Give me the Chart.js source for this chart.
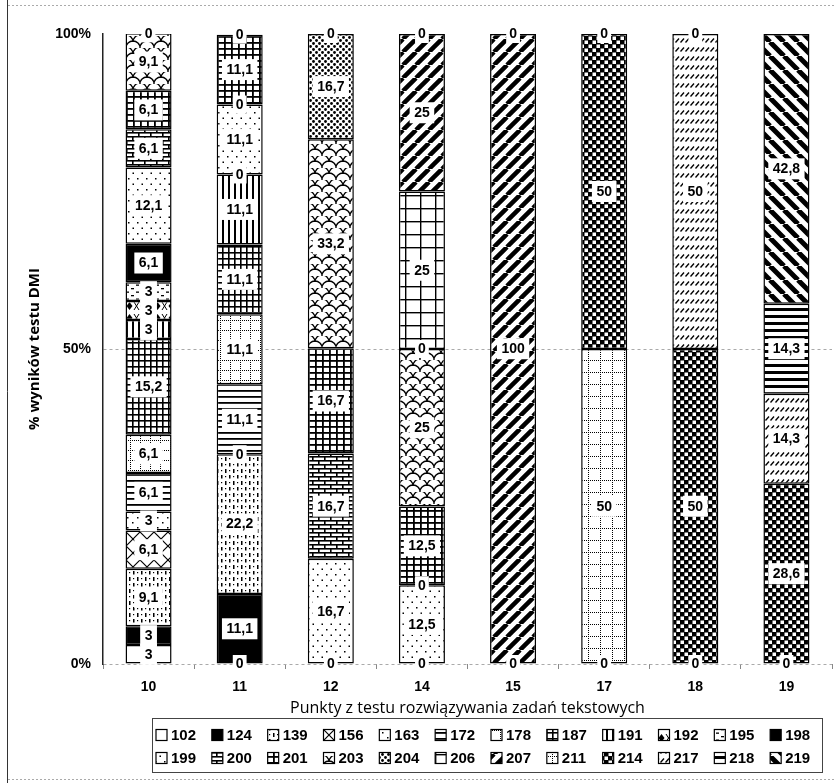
<!DOCTYPE html>
<html>
<head>
<meta charset="utf-8">
<script src="https://cdn.jsdelivr.net/npm/chart.js@4/dist/chart.umd.min.js"></script>
<style>
  html, body { margin: 0; padding: 0; background: #fff; }
  canvas { display: block; }
</style>
</head>
<body>
<canvas id="chart" width="839" height="783"></canvas>
<script>
// Categories: points scored in the word-problem test
const categories = ['10', '11', '12', '14', '15', '17', '18', '19'];

// Share (%) of each DMI result within a category; null = not present
const s102 = [3, 0, 0, 0, 0, 0, 0, 0];
const s124 = [3, 11.1, null, null, null, null, null, null];
const s139 = [9.1, 22.2, null, null, null, null, null, null];
const s156 = [6.1, null, null, null, null, null, null, null];
const s163 = [3, 0, null, null, null, null, null, null];
const s172 = [6.1, 11.1, null, null, null, null, null, null];
const s178 = [6.1, 11.1, null, null, null, null, null, null];
const s187 = [15.2, 11.1, null, null, null, null, null, null];
const s191 = [3, 11.1, null, null, null, null, null, null];
const s192 = [3, null, null, null, null, null, null, null];
const s195 = [3, null, null, null, null, null, null, null];
const s198 = [6.1, 0, null, null, null, null, null, null];
const s199 = [12.1, 11.1, 16.7, 12.5, null, null, null, null];
const s200 = [6.1, 0, 16.7, 0, null, null, null, null];
const s201 = [6.1, 11.1, 16.7, 12.5, null, null, null, null];
const s203 = [9.1, null, 33.2, 25, null, null, null, null];
const s204 = [null, null, 16.7, 0, null, null, null, null];
const s206 = [null, null, null, 25, null, null, null, null];
const s207 = [null, null, null, 25, 100, null, null, null];
const s211 = [null, null, null, null, null, 50, null, null];
const s214 = [null, null, null, null, null, 50, 50, 28.6];
const s217 = [null, null, null, null, null, null, 50, 14.3];
const s218 = [null, null, null, null, null, null, null, 14.3];
const s219 = [0, 0, 0, 0, 0, 0, 0, 42.8];

const seriesLabels = ['102', '124', '139', '156', '163', '172', '178', '187', '191', '192', '195', '198',
                      '199', '200', '201', '203', '204', '206', '207', '211', '214', '217', '218', '219'];
const seriesValues = [s102, s124, s139, s156, s163, s172, s178, s187, s191, s192, s195, s198,
                      s199, s200, s201, s203, s204, s206, s207, s211, s214, s217, s218, s219];

const yTickValues = [0, 50, 100];

// ---- monochrome fill patterns ----
function tile(w, h, draw, bg) {
  const c = document.createElement('canvas');
  c.width = w; c.height = h;
  const g = c.getContext('2d');
  g.fillStyle = bg || '#fff';
  g.fillRect(0, 0, w, h);
  g.fillStyle = '#000';
  g.strokeStyle = '#000';
  draw(g, w, h);
  return g.createPattern(c, 'repeat');
}
function stripes(s, lw, rising) {
  return tile(s, s, g => {
    g.lineWidth = lw;
    g.beginPath();
    for (let k = -1; k <= 1; k++) {
      if (rising) { g.moveTo(k * s, s); g.lineTo(k * s + s, 0); }
      else { g.moveTo(k * s, 0); g.lineTo(k * s + s, s); }
    }
    g.stroke();
  });
}
function dottedGrid(w, h) {
  return tile(w, h, g => {
    for (let x = 0; x < w; x += 2) g.fillRect(x, 0, 1, 1);
    for (let y = 0; y < h; y += 2) g.fillRect(0, y, 1, 1);
  });
}
function dot(g, x, y, r) {
  g.beginPath(); g.arc(x, y, r, 0, Math.PI * 2); g.fill();
}

const patternOf = {
  '102': () => '#ffffff',
  '124': () => '#000000',
  '139': () => tile(8, 12, g => {
    g.fillRect(1, 1, 1.5, 4); g.fillRect(5, 7, 1.5, 3.5);
    g.fillRect(5, 2, 1.2, 1.2); g.fillRect(1, 8, 1.2, 1.2);
  }),
  '156': () => tile(14, 14, g => {
    g.lineWidth = 1.2; g.beginPath();
    g.moveTo(0, 0); g.lineTo(14, 14); g.moveTo(14, 0); g.lineTo(0, 14);
    g.stroke();
  }),
  '163': () => tile(10, 10, g => { g.fillRect(2, 2, 1.5, 1.5); g.fillRect(7, 7, 1.5, 1.5); }),
  '172': () => tile(4, 6, g => { g.fillRect(0, 0, 4, 1.8); }),
  '178': () => dottedGrid(10, 10),
  '187': () => tile(6, 6, g => { g.fillRect(0, 0, 6, 1.6); g.fillRect(0, 0, 1.6, 6); }),
  '191': () => tile(6, 4, g => { g.fillRect(0, 0, 2, 4); }),
  '192': () => tile(14, 12, g => {
    g.beginPath(); g.moveTo(3.5, 2); g.lineTo(6.5, 6); g.lineTo(3.5, 10); g.lineTo(0.5, 6); g.closePath(); g.fill();
    g.lineWidth = 1; g.beginPath();
    g.moveTo(8, 2); g.lineTo(13, 10); g.moveTo(13, 2); g.lineTo(8, 10); g.stroke();
  }),
  '195': () => tile(10, 7, g => { g.fillRect(1, 1, 3, 1.3); g.fillRect(6, 4.5, 3, 1.3); }),
  '198': () => '#000000',
  '199': () => tile(9, 11, g => { g.fillRect(2, 2, 1.5, 1.5); g.fillRect(6.5, 7.5, 1.5, 1.5); }),
  '200': () => tile(12, 8, g => {
    g.fillRect(0, 0, 12, 1.6); g.fillRect(0, 4, 12, 1.6);
    g.fillRect(0, 0, 1.6, 4); g.fillRect(6, 4, 1.6, 4);
  }),
  '201': () => tile(7, 6, g => { g.fillRect(0, 0, 7, 1.8); g.fillRect(0, 0, 1.8, 6); }),
  '203': () => tile(14, 12, g => {
    g.lineWidth = 1.3;
    [[7, 12], [0, 6], [14, 6], [7, 0]].forEach(([cx, cy]) => {
      g.beginPath(); g.arc(cx, cy, 7, Math.PI, Math.PI * 2); g.stroke();
    });
  }),
  '204': () => tile(6, 6, g => { dot(g, 1.5, 1.5, 1.4); dot(g, 4.5, 4.5, 1.4); }),
  '206': () => tile(15, 13, g => { g.fillRect(0, 0, 15, 1.4); g.fillRect(0, 0, 1.4, 13); }),
  '207': () => stripes(13, 4.5, true),
  '211': () => dottedGrid(12, 12),
  '214': () => tile(8, 8, g => {
    g.fillStyle = '#fff';
    g.fillRect(0.5, 0.5, 3.5, 3.5); g.fillRect(4.5, 4.5, 3.5, 3.5);
  }, '#000'),
  '217': () => tile(5, 9, g => {
    g.lineWidth = 1.3; g.beginPath(); g.moveTo(0.5, 6.5); g.lineTo(4, 2.5); g.stroke();
  }),
  '218': () => tile(4, 7, g => { g.fillRect(0, 0, 4, 3); }),
  '219': () => stripes(14, 5, false)
};

const datasets = seriesLabels.map((name, i) => ({
  label: name,
  data: seriesValues[i],
  backgroundColor: patternOf[name](),
  borderColor: '#000',
  borderWidth: 1.5,
  borderSkipped: false,
  categoryPercentage: 0.505,
  barPercentage: 1
}));

const FONT_NUM = '"Liberation Sans", Arial, sans-serif';
const FONT_TXT = '"Open Sans", "Noto Sans", sans-serif';

// Page frame around the figure
const frame = {
  id: 'frame',
  beforeDraw(chart) {
    const ctx = chart.ctx;
    ctx.save();
    ctx.strokeStyle = '#333';
    ctx.lineWidth = 1;
    ctx.beginPath(); ctx.moveTo(7.5, 0); ctx.lineTo(7.5, 783); ctx.stroke();
    ctx.strokeStyle = '#aaa';
    ctx.setLineDash([2, 2]);
    ctx.beginPath(); ctx.moveTo(8, 5.5); ctx.lineTo(836, 5.5); ctx.stroke();
    ctx.beginPath(); ctx.moveTo(8, 779.5); ctx.lineTo(836, 779.5); ctx.stroke();
    ctx.restore();
  }
};

// Value labels on white boxes, at the segment centre (or boundary for zeros)
const valueLabels = {
  id: 'valueLabels',
  afterDatasetsDraw(chart) {
    const ctx = chart.ctx;
    ctx.save();
    ctx.font = 'bold 14px ' + FONT_NUM;
    ctx.textAlign = 'center';
    ctx.textBaseline = 'middle';
    chart.data.datasets.forEach((ds, i) => {
      const meta = chart.getDatasetMeta(i);
      meta.data.forEach((el, j) => {
        const v = ds.data[j];
        if (v === null || v === undefined) return;
        const y = v === 0 ? el.y : (el.y + el.base) / 2;
        const t = String(v).replace('.', ',');
        const w = ctx.measureText(t).width + (v === 0 ? 6 : 9);
        const h = v === 0 ? 18 : 21;
        ctx.fillStyle = '#fff';
        ctx.fillRect(el.x - w / 2, y - h / 2, w, h);
        ctx.fillStyle = '#000';
        ctx.fillText(t, el.x, y + 0.5);
      });
    });
    ctx.restore();
  }
};

// Boxed legend, 12 entries per row
const boxLegend = {
  id: 'boxLegend',
  afterDraw(chart, args, o) {
    const ctx = chart.ctx;
    ctx.save();
    ctx.strokeStyle = '#444';
    ctx.lineWidth = 1;
    ctx.strokeRect(o.left + 0.5, o.top + 0.5, o.right - o.left, o.bottom - o.top);
    ctx.font = 'bold 15px ' + FONT_NUM;
    ctx.textAlign = 'left';
    ctx.textBaseline = 'middle';
    const pitch = (o.right - o.left) / o.perRow;
    chart.data.datasets.forEach((ds, i) => {
      const r = Math.floor(i / o.perRow), c = i % o.perRow;
      const x = o.left + 4 + c * pitch;
      const y = o.top + 17 + r * o.rowGap;
      ctx.fillStyle = ds.backgroundColor;
      ctx.fillRect(x, y - 5.5, 11, 11);
      ctx.strokeStyle = '#000';
      ctx.lineWidth = 1.2;
      ctx.strokeRect(x, y - 5.5, 11, 11);
      ctx.fillStyle = '#000';
      ctx.fillText(ds.label, x + 15, y + 0.5);
    });
    ctx.restore();
  }
};

new Chart(document.getElementById('chart'), {
  type: 'bar',
  data: { labels: categories, datasets },
  plugins: [frame, valueLabels, boxLegend],
  options: {
    responsive: false,
    animation: false,
    layout: { padding: { left: 6, right: 7, top: 34, bottom: 63 } },
    plugins: {
      legend: { display: false },
      tooltip: { enabled: false },
      boxLegend: { left: 152, top: 718, right: 822, bottom: 772, perRow: 12, rowGap: 23 }
    },
    scales: {
      x: {
        stacked: true,
        afterFit: s => { s.height = 56; },
        border: { display: false },
        grid: { drawOnChartArea: false, drawTicks: true, tickLength: 5, tickColor: '#888', offset: true },
        ticks: { color: '#000', padding: 10, font: { family: FONT_NUM, size: 14, weight: 'bold' } },
        title: {
          display: true,
          text: 'Punkty z testu rozwiązywania zadań tekstowych',
          color: '#000',
          padding: { top: 0, bottom: 2 },
          font: { family: FONT_TXT, size: 16 }
        }
      },
      y: {
        stacked: true,
        min: 0,
        max: 100,
        afterFit: s => { s.width = 97; },
        afterBuildTicks: s => { s.ticks = yTickValues.map(v => ({ value: v })); },
        border: { display: true, color: '#222', width: 1.5, dash: [3, 3] },
        grid: {
          color: c => (c.tick && c.tick.value === 100 ? 'rgba(0,0,0,0)' : '#aaa'),
          lineWidth: 1,
          tickLength: 8,
          tickColor: 'rgba(0,0,0,0)'
        },
        ticks: {
          color: '#000',
          padding: 4,
          font: { family: FONT_NUM, size: 14, weight: 'bold' },
          callback: v => v + '%'
        },
        title: {
          display: true,
          text: '% wyników testu DMI',
          color: '#000',
          padding: { top: 20, bottom: 0 },
          font: { family: FONT_TXT, size: 15, weight: 'bold' }
        }
      }
    }
  }
});
</script>
</body>
</html>
